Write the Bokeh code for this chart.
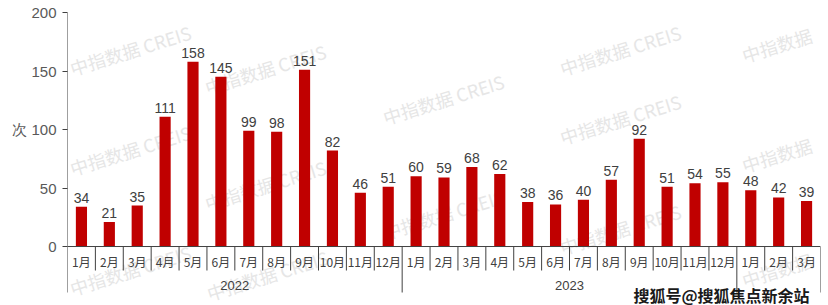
from bokeh.plotting import figure
from bokeh.models import Range1d, FixedTicker, Label
from bokeh.embed import file_html
from bokeh.resources import INLINE
from bokeh.core.properties import value

# ---- data ----
months = ["1月", "2月", "3月", "4月", "5月", "6月", "7月", "8月", "9月", "10月", "11月", "12月",
          "1月", "2月", "3月", "4月", "5月", "6月", "7月", "8月", "9月", "10月", "11月", "12月",
          "1月", "2月", "3月"]
years = ["2022", "2023", ""]
year_counts = [12, 12, 3]
counts = [34, 21, 35, 111, 158, 145, 99, 98, 151, 82, 46, 51,
          60, 59, 68, 62, 38, 36, 40, 57, 92, 51, 54, 55,
          48, 42, 39]
y_ticks = [0, 50, 100, 150, 200]
unit_label = "次"

# ---- styles ----
BAR = "#C00000"
TXT = "#404040"
W, H = 828, 305
FL, FR, FT, FB = 67, 8, 12, 0           # frame borders (px)
Y_MIN, Y_MAX = -50.4, 200
GROUP_SEP = -39.3
MONTH_Y = -12.8
YEAR_Y = -33.5
MINOR_SEP = -20.5

n = len(counts)
xs = [i + 0.5 for i in range(n)]

p = figure(width=W, height=H, x_range=Range1d(0, n), y_range=Range1d(Y_MIN, Y_MAX),
           output_backend="svg", toolbar_location=None, x_axis_location=None,
           min_border_left=FL, min_border_right=FR, min_border_top=FT, min_border_bottom=FB)
p.outline_line_color = None
p.grid.visible = False
p.background_fill_color = "white"
p.border_fill_color = "white"

frame_bottom = H - FB

# watermarks (page pixel positions of baseline start)
wm_full = "中指数据 CREIS"
wm_short = "中指数据"
wm_pos = [(70, 68, wm_full), (70, 168, wm_full), (70, 288, wm_full),
          (205, 87, wm_full), (205, 203, wm_full), (207, 293, wm_full),
          (383, 117, wm_full), (383, 232, wm_full),
          (560, 68, wm_full), (560, 137, wm_full), (560, 247, wm_full),
          (742, 55, wm_short), (742, 165, wm_short), (742, 280, wm_short)]
for (px, py, t) in wm_pos:
    p.add_layout(Label(x=px - FL, y=frame_bottom - py, x_units="screen", y_units="screen",
                       text=t, angle=0.30, text_color="#e6e6e6",
                       text_font="Noto Sans CJK SC", text_font_size="18px",
                       text_align="left", text_baseline="alphabetic",
                       level="underlay"))

# bars
p.vbar(x=xs, top=counts, width=0.4, bottom=0, fill_color=BAR, line_color=None)

# value labels
p.text(x=xs, y=counts, text=[str(c) for c in counts], text_align="center",
       text_baseline="bottom", y_offset=-4, text_color=TXT,
       text_font=value("Liberation Sans"), text_font_size="14px")

# x baseline
p.segment(x0=[0], y0=[0], x1=[n], y1=[0], line_color=TXT, line_width=1)

# separators
group_bounds = [0]
for c in year_counts:
    group_bounds.append(group_bounds[-1] + c)
minor = [k for k in range(1, n) if k not in group_bounds]
p.segment(x0=minor, y0=[0] * len(minor), x1=minor, y1=[MINOR_SEP] * len(minor),
          line_color=TXT, line_width=1)
major = [k for k in group_bounds if k > 0]
p.segment(x0=major, y0=[0] * len(major), x1=major, y1=[GROUP_SEP] * len(major),
          line_color=TXT, line_width=1)
# y-axis line (from top down to the group separator depth)
p.segment(x0=[0], y0=[Y_MAX], x1=[0], y1=[GROUP_SEP], line_color=TXT, line_width=1)

# month labels
p.text(x=xs, y=[MONTH_Y] * n, text=months, text_align="center", text_baseline="middle",
       text_color=TXT, text_font=value("Noto Sans CJK SC"), text_font_size="12px")

# year labels
yx = [group_bounds[i] + year_counts[i] / 2 for i in range(len(years)) if years[i]]
yt = [y for y in years if y]
p.text(x=yx, y=[YEAR_Y] * len(yx), text=yt, text_align="center", text_baseline="middle",
       text_color=TXT, text_font=value("Liberation Sans"), text_font_size="13px")

# y axis
ya = p.yaxis[0]
ya.ticker = FixedTicker(ticks=y_ticks)
ya.major_label_overrides = {100: unit_label + " 100"}
ya.major_tick_in = 0
ya.major_tick_out = 5
ya.minor_tick_line_color = None
ya.axis_line_color = None
ya.major_tick_line_color = TXT
ya.major_label_standoff = 6
ya.major_label_text_font = "Liberation Sans"
ya.major_label_text_font_size = "15px"
ya.major_label_text_color = "#595959"

# source watermark
p.add_layout(Label(x=633 - FL, y=frame_bottom - 294, x_units="screen", y_units="screen",
                   text="搜狐号@搜狐焦点新余站", text_color="#1a1a1a",
                   text_font="Noto Sans CJK SC", text_font_size="16px",
                   text_font_style="bold", text_align="left", text_baseline="alphabetic"))

open("out.html", "w").write(file_html(p, INLINE))
